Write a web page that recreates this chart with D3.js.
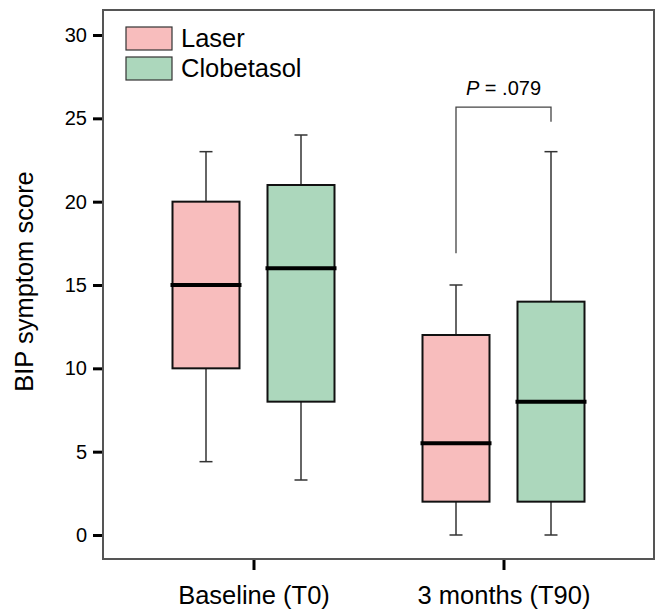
<!DOCTYPE html>
<html>
<head>
<meta charset="utf-8">
<script src="https://cdn.jsdelivr.net/npm/d3@7"></script>
<style>
  body { margin: 0; background: #fff; }
  svg { display: block; font-family: "Liberation Sans", Arial, sans-serif; }
</style>
</head>
<body>
<div id="chart"></div>
<script>
// data
const groups = ["Baseline (T0)", "3 months (T90)"];
const series = ["Laser", "Clobetasol"];
const colors = ["#f8bdbd", "#acd7bc"];
// [whiskerLow, q1, median, q3, whiskerHigh] per group, per series
const laserStats = [[4.4, 10, 15, 20, 23], [0, 2, 5.5, 12, 15]];
const clobStats = [[3.3, 8, 16, 21, 24], [0, 2, 8, 14, 23]];
const yTicks = [0, 5, 10, 15, 20, 25, 30];
const pLabel = ".079";

const width = 662, height = 610;
const frame = { left: 103, right: 654, top: 10, bottom: 559 };

const svg = d3.select("#chart").append("svg")
  .attr("width", width).attr("height", height);

const y = d3.scaleLinear().domain([0, 30]).range([535, 35]);
const x = d3.scalePoint().domain(groups).range([frame.left, frame.right]).padding(0.602);
const xs = d3.scalePoint().domain(series).range([-47.5, 47.5]);
const boxW = 67, capW = 13;

// frame
svg.append("rect")
  .attr("x", frame.left).attr("y", frame.top)
  .attr("width", frame.right - frame.left).attr("height", frame.bottom - frame.top)
  .attr("fill", "none").attr("stroke", "#555").attr("stroke-width", 2);

// y axis
const yAxis = svg.append("g")
  .attr("transform", `translate(${frame.left - 1},0)`)
  .call(d3.axisLeft(y).tickValues(yTicks).tickSize(9).tickPadding(6));
yAxis.select(".domain").remove();
yAxis.selectAll(".tick line").attr("stroke", "#000").attr("stroke-width", 3);
yAxis.selectAll(".tick text").style("font-size", "20px").attr("fill", "#000")
  .attr("font-family", "Liberation Sans, Arial, sans-serif");

// x axis
const xAxis = svg.append("g")
  .attr("transform", `translate(0,${frame.bottom + 1})`)
  .call(d3.axisBottom(x).tickSize(10).tickPadding(16));
xAxis.select(".domain").remove();
xAxis.selectAll(".tick line").attr("stroke", "#000").attr("stroke-width", 3);
xAxis.selectAll(".tick text").style("font-size", "25.5px").attr("fill", "#000")
  .attr("font-family", "Liberation Sans, Arial, sans-serif");

// y label
svg.append("text")
  .attr("transform", `translate(33,${(170 + 393) / 2}) rotate(-90)`)
  .attr("text-anchor", "middle")
  .style("font-size", "25.5px")
  .text("BIP symptom score");

// boxes
const boxes = [];
groups.forEach((g, gi) => {
  [laserStats, clobStats].forEach((st, si) => {
    const s = st[gi];
    boxes.push({ group: g, series: series[si], color: colors[si],
      lo: s[0], q1: s[1], med: s[2], q3: s[3], hi: s[4] });
  });
});

const bx = svg.selectAll(".box").data(boxes).enter().append("g")
  .attr("class", "box")
  .attr("transform", d => `translate(${x(d.group) + xs(d.series)},0)`);

// whiskers
bx.append("line")
  .attr("x1", 0).attr("x2", 0)
  .attr("y1", d => y(d.hi)).attr("y2", d => y(d.q3))
  .attr("stroke", "#333").attr("stroke-width", 1.5);
bx.append("line")
  .attr("x1", 0).attr("x2", 0)
  .attr("y1", d => y(d.lo)).attr("y2", d => y(d.q1))
  .attr("stroke", "#333").attr("stroke-width", 1.5);
bx.append("line")
  .attr("x1", -capW / 2).attr("x2", capW / 2)
  .attr("y1", d => y(d.hi)).attr("y2", d => y(d.hi))
  .attr("stroke", "#333").attr("stroke-width", 1.5);
bx.append("line")
  .attr("x1", -capW / 2).attr("x2", capW / 2)
  .attr("y1", d => y(d.lo)).attr("y2", d => y(d.lo))
  .attr("stroke", "#333").attr("stroke-width", 1.5);

bx.append("rect")
  .attr("x", -boxW / 2).attr("width", boxW)
  .attr("y", d => y(d.q3)).attr("height", d => y(d.q1) - y(d.q3))
  .attr("fill", d => d.color).attr("stroke", "#111").attr("stroke-width", 2);

bx.append("line")
  .attr("x1", -boxW / 2 - 2).attr("x2", boxW / 2 + 2)
  .attr("y1", d => y(d.med)).attr("y2", d => y(d.med))
  .attr("stroke", "#000").attr("stroke-width", 4);

// significance bracket at T90
const bl = x(groups[1]) + xs(series[0]);
const br = x(groups[1]) + xs(series[1]);
const bTop = y(25.67);
svg.append("path")
  .attr("d", `M${bl},${y(16.9)}V${bTop}H${br}V${y(24.8)}`)
  .attr("fill", "none").attr("stroke", "#444").attr("stroke-width", 1.3);
const pt = svg.append("text")
  .attr("x", (bl + br) / 2).attr("y", bTop - 12)
  .attr("text-anchor", "middle")
  .style("font-size", "20px");
pt.append("tspan").attr("font-style", "italic").text("P");
pt.append("tspan").text(" = " + pLabel);

// legend
const legend = svg.append("g").attr("transform", "translate(126,27)");
series.forEach((s, i) => {
  const row = legend.append("g").attr("transform", `translate(0,${i * 30})`);
  row.append("rect").attr("width", 46).attr("height", 23)
    .attr("fill", colors[i]).attr("stroke", "#333").attr("stroke-width", 1.2);
  row.append("text").attr("x", 55).attr("y", 20)
    .style("font-size", "25.5px").text(s);
});

// panel letter, cut off at the page edge as in the source figure
svg.append("text")
  .attr("x", -2).attr("y", 630)
  .style("font-size", "26px")
  .text("C");
</script>
</body>
</html>
